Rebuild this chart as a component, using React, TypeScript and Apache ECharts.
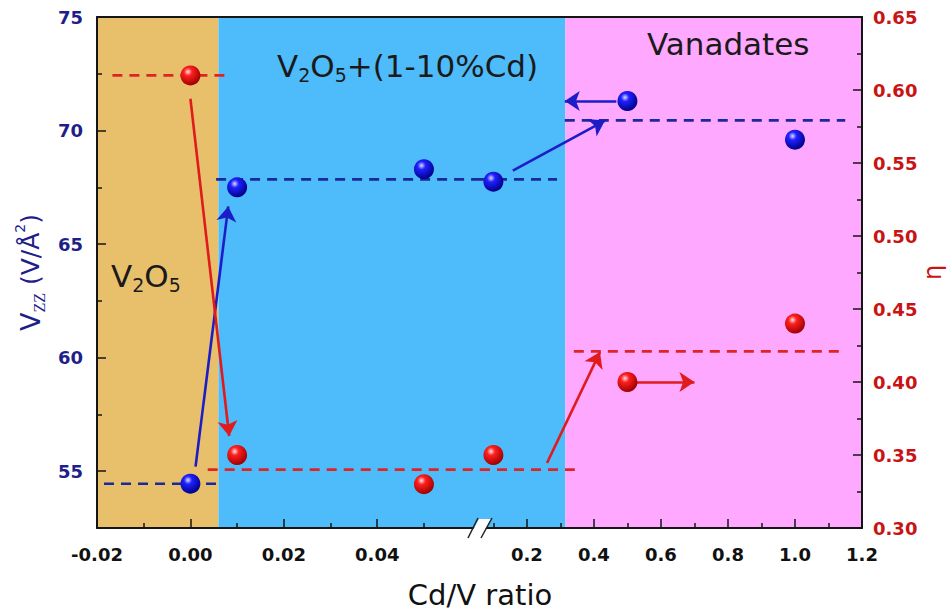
import React, { useEffect, useRef } from "react";
import * as echarts from "echarts";

// ---- axis ticks ----
const leftXMajor = [-0.02, 0, 0.02, 0.04];
const leftXMinor = [-0.01, 0.01, 0.03, 0.05];
const rightXMajor = [0.2, 0.4, 0.6, 0.8, 1.0, 1.2];
const rightXMinor = [0.1, 0.3, 0.5, 0.7, 0.9, 1.1];
const vzzMajor = [55, 60, 65, 70, 75];
const vzzMinor = [57.5, 62.5, 67.5, 72.5];

// ---- data ----
const cdRatio = [0, 0.01, 0.05, 0.1, 0.5, 1.0];
const vzz = [54.45, 67.5, 68.3, 67.75, 71.3, 69.6];
const eta = [0.61, 0.35, 0.33, 0.35, 0.4, 0.44];

// dashed guide levels: [xStart, xEnd, value]
const vzzLevels = [
  [-0.0185, 0.0055, 54.45],
  [0.0055, 0.29, 67.85],
  [0.313, 1.15, 70.45],
];
const etaLevels = [
  [-0.0167, 0.0078, 0.61],
  [0.0037, 0.343, 0.34],
  [0.34, 1.14, 0.421],
];

// arrows: [[xFrom, yFrom], [xTo, yTo]]
const vzzArrows = [
  [[0.0011, 55.2], [0.0081, 66.66]],
  [[0.158, 68.24], [0.433, 70.44]],
  [[0.467, 71.3], [0.313, 71.3]],
];
const etaArrows = [
  [[0.0, 0.594], [0.0083, 0.363]],
  [[0.26, 0.3445], [0.418, 0.4205]],
  [[0.527, 0.4], [0.7, 0.4]],
];

// shaded regions along Cd/V
const regionBounds = [
  [-0.02, 0.006],
  [0.006, 0.315],
  [0.315, 1.2],
];
const regionColors = ["#E8C06C", "#4EBBFB", "#FFA8FF"];

// axis break
const LEFT_MAX = 0.062;
const RIGHT_MIN = 0.06;

const FONT = "DejaVu Sans";
const AXIS_COLOR = "#151515";
const NAVY = "#1f1f8a";
const RED_TXT = "#c81414";
const BLUE_LINE = "#1a2a9a";
const RED_LINE = "#e02424";
const BLUE_ARROW = "#1d1dc8";
const RED_ARROW = "#e01b1b";

// grid g -> axis indices
const xIdx = [0, 2];
const vzzY = [0, 3];
const etaY = [2, 4];

function pieces(a: number, b: number) {
  const lo = Math.min(a, b);
  const hi = Math.max(a, b);
  const out: { g: number; a: number; b: number }[] = [];
  if (lo <= LEFT_MAX) out.push({ g: 0, a: lo, b: Math.min(hi, LEFT_MAX) });
  if (hi > LEFT_MAX) out.push({ g: 1, a: lo <= LEFT_MAX ? RIGHT_MIN : lo, b: hi });
  return out;
}

function ball(c0: string, c1: string, c2: string) {
  return new echarts.graphic.RadialGradient(0.38, 0.32, 0.68, [
    { offset: 0, color: c0 },
    { offset: 0.3, color: c1 },
    { offset: 1, color: c2 },
  ]);
}

function buildOption() {
  const series: any[] = [];

  // background regions
  [0, 1].forEach((g) => {
    const areas: any[] = [];
    regionBounds.forEach(([a, b], i) => {
      pieces(a, b).forEach((p) => {
        if (p.g === g && p.b > p.a)
          areas.push([
            { xAxis: p.a, itemStyle: { color: regionColors[i], opacity: 1 } },
            { xAxis: p.b },
          ]);
      });
    });
    series.push({
      type: "line",
      xAxisIndex: xIdx[g],
      yAxisIndex: vzzY[g],
      data: [],
      silent: true,
      markArea: { silent: true, z: 1, data: areas },
    });
  });

  // dashed levels
  const addLevels = (levels: number[][], yIdx: number[], color: string) => {
    levels.forEach(([a, b, v]) => {
      pieces(a, b).forEach((p) => {
        series.push({
          type: "line",
          xAxisIndex: xIdx[p.g],
          yAxisIndex: yIdx[p.g],
          data: [
            [p.a, v],
            [p.b, v],
          ],
          showSymbol: false,
          symbol: "none",
          silent: true,
          z: 6,
          lineStyle: { color, width: 2.6, type: [10, 7] },
        });
      });
    });
  };
  addLevels(vzzLevels, vzzY, BLUE_LINE);
  addLevels(etaLevels, etaY, RED_LINE);

  // arrows
  const addArrows = (arrows: number[][][], yIdx: number[], color: string) => {
    arrows.forEach((seg) => {
      const g = seg[0][0] <= LEFT_MAX ? 0 : 1;
      series.push({
        type: "lines",
        coordinateSystem: "cartesian2d",
        xAxisIndex: xIdx[g],
        yAxisIndex: yIdx[g],
        z: 8,
        silent: true,
        symbol: ["none", "arrow"],
        symbolSize: 15,
        lineStyle: { color, width: 2.6, opacity: 1, curveness: 0 },
        data: [{ coords: seg }],
      });
    });
  };
  addArrows(vzzArrows, vzzY, BLUE_ARROW);
  addArrows(etaArrows, etaY, RED_ARROW);

  // points
  const addPoints = (vals: number[], yIdx: number[], grad: any) => {
    [0, 1].forEach((g) => {
      const d = cdRatio
        .map((x, i) => [x, vals[i]])
        .filter(([x]) => (g === 0 ? x <= LEFT_MAX : x > LEFT_MAX));
      series.push({
        type: "scatter",
        xAxisIndex: xIdx[g],
        yAxisIndex: yIdx[g],
        data: d,
        symbolSize: 20,
        z: 10,
        itemStyle: { color: grad, opacity: 1 },
      });
    });
  };
  addPoints(vzz, vzzY, ball("#d8dcff", "#2020ff", "#00008a"));
  addPoints(eta, etaY, ball("#ffe0e0", "#ff1f1f", "#a00000"));

  const tickLine = { color: AXIS_COLOR, width: 1.5 };
  const axLine = { show: true, onZero: false, lineStyle: { color: AXIS_COLOR, width: 2 } };
  const labelBase = { fontFamily: FONT, fontWeight: "bold", fontSize: 18 };

  const xAxis: any[] = [
    {
      gridIndex: 0,
      type: "value",
      position: "bottom",
      min: -0.02,
      max: LEFT_MAX,
      z: 3,
      axisLine: axLine,
      axisTick: { inside: true, length: 9, customValues: leftXMajor, lineStyle: tickLine },
      axisLabel: {
        ...labelBase,
        color: "#111",
        margin: 17,
        customValues: leftXMajor,
        formatter: (v: number) => v.toFixed(2),
      },
      splitLine: { show: false },
    },
    {
      gridIndex: 0,
      type: "value",
      position: "bottom",
      min: -0.02,
      max: LEFT_MAX,
      z: 3,
      axisLine: { show: false, onZero: false },
      axisTick: { inside: true, length: 5, customValues: leftXMinor, lineStyle: tickLine },
      axisLabel: { show: false },
      splitLine: { show: false },
    },
    {
      gridIndex: 1,
      type: "value",
      position: "bottom",
      min: RIGHT_MIN,
      max: 1.2,
      z: 3,
      axisLine: axLine,
      axisTick: { inside: true, length: 9, customValues: rightXMajor, lineStyle: tickLine },
      axisLabel: {
        ...labelBase,
        color: "#111",
        margin: 17,
        customValues: rightXMajor,
        formatter: (v: number) => v.toFixed(1),
      },
      splitLine: { show: false },
    },
    {
      gridIndex: 1,
      type: "value",
      position: "bottom",
      min: RIGHT_MIN,
      max: 1.2,
      z: 3,
      axisLine: { show: false, onZero: false },
      axisTick: { inside: true, length: 5, customValues: rightXMinor, lineStyle: tickLine },
      axisLabel: { show: false },
      splitLine: { show: false },
    },
    {
      gridIndex: 0,
      type: "value",
      position: "top",
      min: -0.02,
      max: LEFT_MAX,
      z: 3,
      axisLine: axLine,
      axisTick: { show: false },
      axisLabel: { show: false },
      splitLine: { show: false },
    },
    {
      gridIndex: 1,
      type: "value",
      position: "top",
      min: RIGHT_MIN,
      max: 1.2,
      z: 3,
      axisLine: axLine,
      axisTick: { show: false },
      axisLabel: { show: false },
      splitLine: { show: false },
    },
  ];

  const yAxis: any[] = [
    {
      gridIndex: 0,
      type: "value",
      position: "left",
      min: 52.5,
      max: 75,
      z: 3,
      axisLine: axLine,
      axisTick: { inside: true, length: 9, customValues: vzzMajor, lineStyle: tickLine },
      axisLabel: { ...labelBase, color: NAVY, margin: 14, customValues: vzzMajor },
      splitLine: { show: false },
      name: "{v|V}{s|ZZ}{a| (V/Å}{p|2}{a|)}",
      nameLocation: "middle",
      nameGap: 50,
      nameRotate: 90,
      nameTextStyle: {
        rich: {
          v: { fontFamily: FONT, fontSize: 27, color: NAVY, lineHeight: 34 },
          s: {
            fontFamily: "Liberation Serif",
            fontSize: 16,
            color: NAVY,
            lineHeight: 14,
            verticalAlign: "bottom",
          },
          a: { fontFamily: FONT, fontSize: 25, color: NAVY, lineHeight: 34 },
          p: {
            fontFamily: FONT,
            fontSize: 14,
            color: NAVY,
            lineHeight: 14,
            verticalAlign: "top",
          },
        },
      },
    },
    {
      gridIndex: 0,
      type: "value",
      position: "left",
      min: 52.5,
      max: 75,
      z: 3,
      axisLine: { show: false, onZero: false },
      axisTick: { inside: true, length: 5, customValues: vzzMinor, lineStyle: tickLine },
      axisLabel: { show: false },
      splitLine: { show: false },
    },
    { gridIndex: 0, type: "value", position: "right", min: 0.3, max: 0.65, show: false },
    { gridIndex: 1, type: "value", position: "left", min: 52.5, max: 75, show: false },
    {
      gridIndex: 1,
      type: "value",
      position: "right",
      min: 0.3,
      max: 0.65,
      interval: 0.05,
      z: 3,
      axisLine: axLine,
      axisTick: { inside: true, length: 9, lineStyle: tickLine },
      minorTick: { show: true, splitNumber: 2, length: 5, lineStyle: tickLine },
      axisLabel: {
        ...labelBase,
        color: RED_TXT,
        margin: 11,
        formatter: (v: number) => v.toFixed(2),
      },
      splitLine: { show: false },
      minorSplitLine: { show: false },
      name: "η",
      nameLocation: "middle",
      nameGap: 56,
      nameRotate: 90,
      nameTextStyle: { fontFamily: FONT, fontSize: 24, color: RED_TXT },
    },
  ];

  const regionText = (text: string, x: number, y: number) => ({
    type: "text",
    x,
    y,
    z: 20,
    silent: true,
    style: {
      text,
      align: "left",
      verticalAlign: "middle",
      rich: {
        a: { fontFamily: FONT, fontSize: 31, fill: "#1a1a1a", lineHeight: 36 },
        s: {
          fontFamily: FONT,
          fontSize: 19,
          fill: "#1a1a1a",
          lineHeight: 18,
          verticalAlign: "bottom",
        },
      },
    },
  });

  const graphic: any[] = [
    regionText("{a|V}{s|2}{a|O}{s|5}{a|+(1-10%Cd)}", 277, 66),
    regionText("{a|Vanadates}", 647, 44),
    regionText("{a|V}{s|2}{a|O}{s|5}", 111, 276),
    {
      type: "text",
      x: 480,
      y: 595,
      z: 20,
      silent: true,
      style: {
        text: "Cd/V ratio",
        fontFamily: FONT,
        fontSize: 29,
        fill: "#111",
        align: "center",
        verticalAlign: "middle",
      },
    },
    {
      type: "polygon",
      z: 30,
      silent: true,
      shape: {
        points: [
          [469, 537],
          [479, 519],
          [491, 519],
          [481, 537],
        ],
      },
      style: { fill: "#ffffff" },
    },
    {
      type: "line",
      z: 31,
      silent: true,
      shape: { x1: 468, y1: 538, x2: 478, y2: 518 },
      style: { stroke: "#222", lineWidth: 1.5 },
    },
    {
      type: "line",
      z: 31,
      silent: true,
      shape: { x1: 481, y1: 538, x2: 492, y2: 518 },
      style: { stroke: "#222", lineWidth: 1.5 },
    },
  ];

  return {
    animation: false,
    backgroundColor: "#ffffff",
    grid: [
      { left: 97, top: 17, width: 383, height: 511, containLabel: false, outerBoundsMode: "none" },
      { left: 480, top: 17, width: 382, height: 511, containLabel: false, outerBoundsMode: "none" },
    ],
    xAxis,
    yAxis,
    series,
    graphic,
  };
}

export default function App() {
  const ref = useRef<HTMLDivElement>(null);
  useEffect(() => {
    if (!ref.current) return;
    const chart = echarts.init(ref.current, null, { renderer: "svg" });
    chart.setOption(buildOption() as any);
    return () => chart.dispose();
  }, []);
  return (
    <div
      ref={ref}
      style={{ position: "absolute", left: 0, top: 0, width: 948, height: 611 }}
    />
  );
}
